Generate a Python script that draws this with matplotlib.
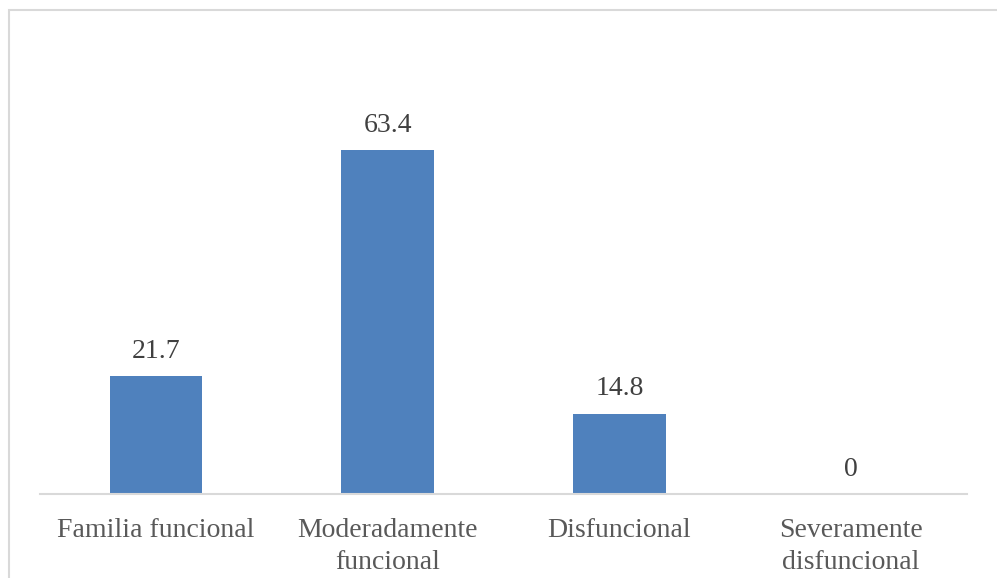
import matplotlib.pyplot as plt
from matplotlib.patches import Rectangle

categorias = ["Familia funcional", "Moderadamente\nfuncional", "Disfuncional", "Severamente\ndisfuncional"]
valores = [21.7, 63.4, 14.8, 0]
etiquetas = ["21.7", "63.4", "14.8", "0"]

plt.rcParams['font.family'] = ['Liberation Serif', 'DejaVu Serif']

fig = plt.figure(figsize=(9.97, 5.78), dpi=100)

# borde del grafico (recortado a la derecha y abajo)
fig.patches.append(Rectangle((9 / 997, -0.1), 1.1, (578 - 10) / 578 + 0.1,
                             transform=fig.transFigure, fill=False,
                             edgecolor='#D9D9D9', linewidth=1.5))

ax = fig.add_axes([40 / 997, (578 - 494) / 578, 927 / 997, (494 - 60) / 578])
x = range(len(categorias))
barras = ax.bar(x, valores, width=0.4, color='#4F81BD')
ax.set_xlim(-0.5, 3.5)
ax.set_ylim(0, 80)

for xi, v, t in zip(x, valores, etiquetas):
    ax.text(xi, v + 4.6, t, ha='center', va='center', fontsize=20, color='#404040')

ax.set_xticks(list(x))
ax.set_xticklabels(categorias, fontsize=20, color='#595959', linespacing=1.4)
ax.tick_params(axis='x', length=0, pad=17)
ax.set_yticks([])
for s in ['top', 'right', 'left']:
    ax.spines[s].set_visible(False)
ax.spines['bottom'].set_color('#D9D9D9')
ax.spines['bottom'].set_linewidth(1.5)

fig.savefig('out.png', dpi=100)
